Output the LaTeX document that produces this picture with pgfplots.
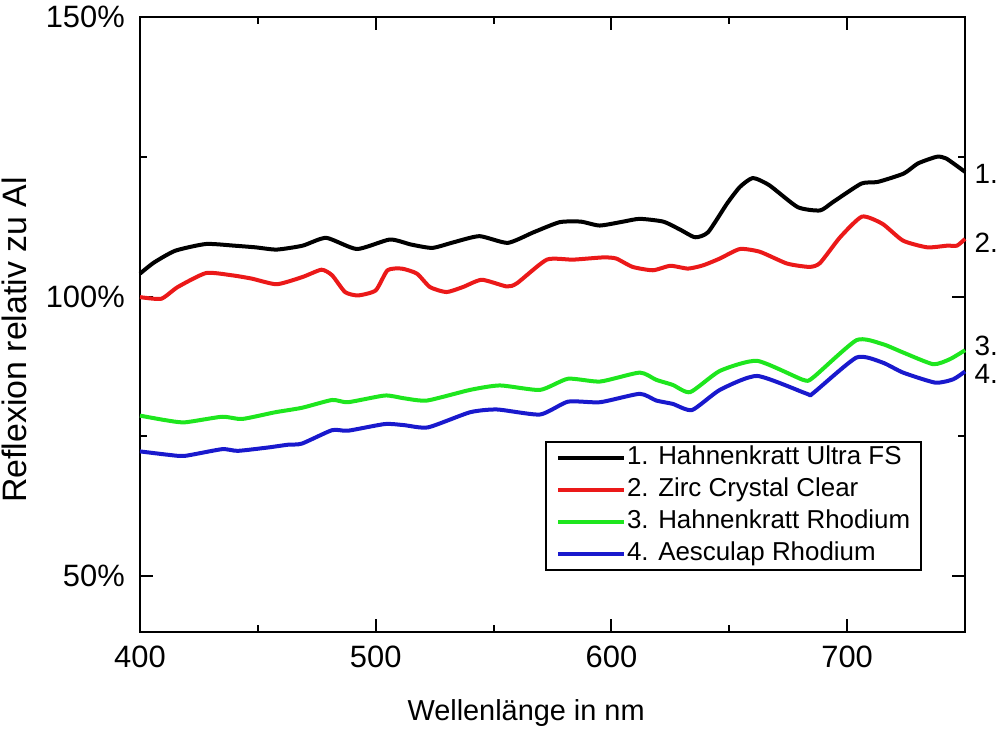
\documentclass[border=0pt]{standalone}
\usepackage{fontspec}
\setmainfont{Liberation Sans}
\usepackage{pgfplots}
\pgfplotsset{compat=1.18}
\definecolor{cred}{RGB}{235,25,25}
\definecolor{cgreen}{RGB}{30,230,30}
\definecolor{cblue}{RGB}{25,25,205}
\begin{document}
\begin{tikzpicture}
\begin{axis}[
 name=ax,
 scale only axis, width=825bp, height=615bp,
 xmin=400, xmax=750, ymin=40, ymax=150,
 xtick={400,500,600,700}, minor x tick num=1,
 ytick={50,100,150}, minor y tick num=1,
 tick align=inside,
 major tick length=13bp, minor tick length=7bp,
 axis line style={line width=2.5bp},
 every tick/.style={line width=2bp, black},
 /pgf/number format/assume math mode=true,
 yticklabel={\pgfmathprintnumber{\tick}\%},
 ticklabel style={font=\fontsize{31}{37}\selectfont, inner sep=0pt},
 xticklabel style={anchor=base, yshift=-35bp},
 yticklabel style={anchor=east, xshift=-15bp},
 xlabel={Wellenlänge in nm},
 ylabel={Reflexion relativ zu Al},
 xlabel style={font=\fontsize{29}{35}\selectfont, at={(axis description cs:0.468,-0.1431)}, anchor=base, inner sep=0pt},
 ylabel style={font=\fontsize{34}{40}\selectfont, at={(axis description cs:-0.137,0.475)}, anchor=base, inner sep=0pt},
 clip=false,
 legend style={at={(axis description cs:0.491,0.3106)}, anchor=north west, draw=black, line width=2bp,
   font=\fontsize{26}{31}\selectfont, inner xsep=10bp, inner ysep=3bp, row sep=6bp,
   nodes={inner sep=1bp, text height=19bp, text depth=5bp}},
 legend cell align=left,
 legend image code/.code={\draw[#1, line width=4bp] (0bp,0bp) -- (62bp,0bp); \path (0bp,0bp) -- (66bp,0bp);},
 every axis plot/.append style={line width=4bp, line join=round, smooth, tension=0.35},
]
\addplot[black] coordinates {
(400,104.1) (406,106.1) (415,108.2) (428,109.4) (440,109.1) (449,108.8) (458,108.4) (469,109.1)
(479,110.5) (492,108.5) (506,110.2) (515,109.3) (524,108.7) (533,109.7) (544,110.8) (556,109.6)
(567,111.5) (578,113.3) (587,113.4) (595,112.7) (605,113.4) (612,113.9) (622,113.4) (629,112.0)
(635.5,110.6) (641,111.5) (649,116.6) (654.5,119.6) (660,121.2) (667,119.9) (679,116.0) (688.5,115.4)
(694,116.9) (706,120.2) (713,120.5) (724,122.0) (730,123.8) (738,125.0) (742,124.7) (750,122.3)
};
\addlegendentry{1. Hahnenkratt Ultra FS}
\addplot[cred] coordinates {
(400,99.9) (409,99.6) (416,101.7) (428,104.2) (439,103.8) (447.5,103.2) (458,102.2) (469,103.5)
(477,104.8) (481.5,103.8) (487,100.8) (492.5,100.2) (500,101.1) (505,104.7) (511,105.0) (517.5,104.1)
(523,101.7) (530,100.8) (537,101.7) (545,103.0) (555.6,101.8) (560,102.4) (572.6,106.6) (583.7,106.6)
(596.5,107.0) (602,106.8) (609,105.3) (617.6,104.7) (625,105.5) (632.5,105.0) (639,105.6) (646,106.8)
(654.5,108.5) (663,108.0) (674.5,105.9) (684,105.3) (688.5,106.0) (697,110.6) (706.3,114.3) (715,113.0)
(723.7,110.0) (734,108.8) (742.4,109.1) (746.6,109.1) (750,110.3)
};
\addlegendentry{2. Zirc Crystal Clear}
\addplot[cgreen] coordinates {
(400,78.7) (410.6,77.9) (419,77.5) (434.8,78.5) (443.3,78.1) (457.3,79.3) (468.7,80.1) (481.5,81.5)
(488.2,81.1) (503.9,82.3) (512,81.8) (521.8,81.4) (540,83.3) (552.7,84.1) (569.7,83.3) (581.6,85.3)
(595.2,84.8) (612,86.4) (619,85.1) (626,84.2) (633.4,82.9) (646,86.7) (661.8,88.5) (681.3,85.1)
(685.5,85.5) (704,92.2) (715,91.5) (723.7,90.0) (736.5,87.9) (743.6,88.8) (750,90.4)
};
\addlegendentry{3. Hahnenkratt Rhodium}
\addplot[cblue] coordinates {
(400,72.3) (411.9,71.7) (419,71.5) (434.8,72.7) (441.5,72.4) (454.3,73.0) (462.8,73.5) (468.7,73.7)
(481.5,76.1) (488.2,76.0) (503.9,77.2) (512,77.0) (522.2,76.6) (540,79.3) (551.5,79.8) (569.7,78.9)
(581.6,81.2) (595.2,81.1) (612,82.6) (619,81.4) (626,80.8) (634.2,79.7) (646,83.3) (661.8,85.8)
(683,82.6) (685.5,82.7) (704,89.1) (715,88.2) (723.7,86.4) (737.4,84.6) (745,85.2) (750,86.6)
};
\addlegendentry{4. Aesculap Rhodium}
\node[anchor=west, font=\fontsize{28}{34}\selectfont, inner sep=0pt] at (axis cs:754,122.0) {1.};
\node[anchor=west, font=\fontsize{28}{34}\selectfont, inner sep=0pt] at (axis cs:754,109.7) {2.};
\node[anchor=west, font=\fontsize{28}{34}\selectfont, inner sep=0pt] at (axis cs:754,91.2) {3.};
\node[anchor=west, font=\fontsize{28}{34}\selectfont, inner sep=0pt] at (axis cs:754,86.2) {4.};
\end{axis}
\pgfresetboundingbox
\path[use as bounding box] ([xshift=-140bp,yshift=-97bp]ax.south west) rectangle ([xshift=36bp,yshift=17bp]ax.north east);
\end{tikzpicture}
\end{document}
